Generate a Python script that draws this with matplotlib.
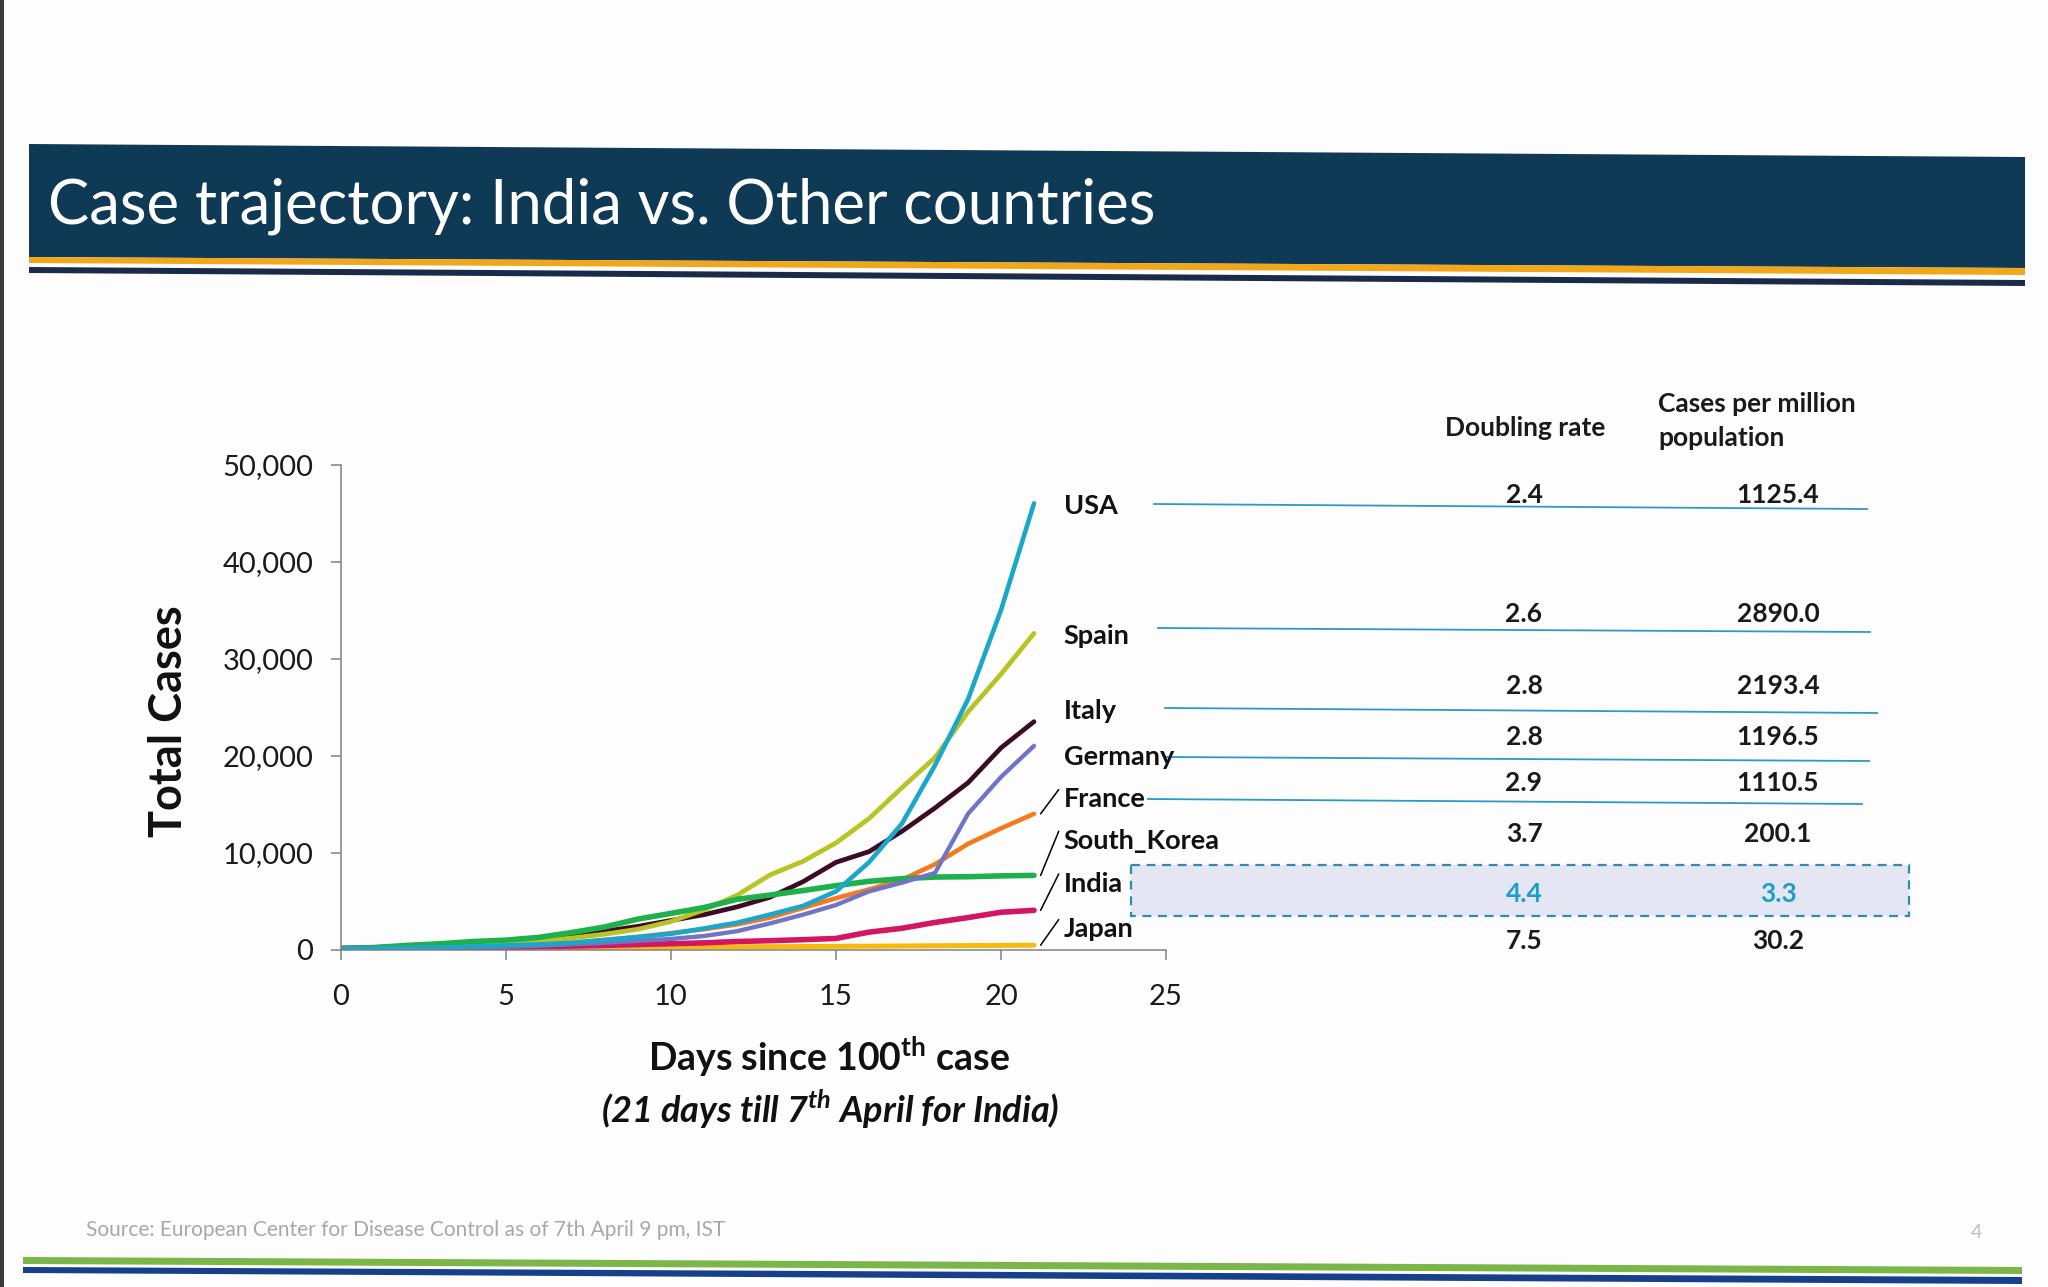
import matplotlib
matplotlib.use('Agg')
import matplotlib.pyplot as plt
from matplotlib.patches import Polygon, Rectangle
from matplotlib.ticker import FuncFormatter
import numpy as np

plt.rcParams['font.family'] = ['Lato', 'DejaVu Sans']
plt.rcParams['mathtext.fontset'] = 'custom'
plt.rcParams['mathtext.rm'] = 'Lato'
plt.rcParams['mathtext.bf'] = 'Lato:bold'
plt.rcParams['mathtext.bfit'] = 'Lato:italic:bold'

# ---- values ----
days = list(range(22))
countries = ['USA', 'Spain', 'Italy', 'Germany', 'France', 'South_Korea', 'India', 'Japan']

usa = [100, 124, 158, 221, 319, 435, 541, 704, 994, 1301, 1630, 2183, 2770, 3613,
       4500, 6000, 9000, 13000, 19000, 25800, 35000, 46000]
spain = [100, 150, 200, 290, 430, 600, 880, 1200, 1600, 2100, 2900, 4100, 5600, 7700,
         9100, 11000, 13500, 16700, 19800, 24500, 28400, 32600]
italy = [150, 230, 320, 450, 650, 860, 1100, 1500, 1900, 2400, 3000, 3600, 4400, 5400,
         7000, 9000, 10100, 12200, 14600, 17200, 20800, 23500]
germany = [100, 130, 160, 200, 250, 300, 400, 550, 700, 900, 1100, 1400, 1900, 2700,
           3600, 4600, 6000, 6900, 7900, 14000, 17800, 21000]
france = [100, 130, 190, 250, 300, 420, 600, 700, 1000, 1300, 1700, 2100, 2600, 3300,
          4300, 5300, 6200, 7200, 8800, 10900, 12500, 14000]
south_korea = [104, 204, 433, 602, 833, 977, 1261, 1766, 2337, 3150, 3736, 4335, 5186,
               5621, 6088, 6593, 7041, 7313, 7478, 7513, 7600, 7650]
india = [100, 114, 137, 151, 173, 223, 283, 360, 434, 519, 606, 694, 834, 918, 1024,
         1150, 1800, 2200, 2800, 3300, 3850, 4050]
japan = [100, 105, 132, 144, 156, 170, 190, 210, 230, 239, 254, 268, 284, 300, 317,
         333, 349, 372, 395, 414, 433, 455]

doubling_rate = ['2.4', '2.6', '2.8', '2.8', '2.9', '3.7', '4.4', '7.5']
cases_per_million = ['1125.4', '2890.0', '2193.4', '1196.5', '1110.5', '200.1', '3.3', '30.2']

yticks = [0, 10000, 20000, 30000, 40000, 50000]
xticks = [0, 5, 10, 15, 20, 25]

series = {'USA': usa, 'Spain': spain, 'Italy': italy, 'Germany': germany,
          'France': france, 'South_Korea': south_korea, 'India': india, 'Japan': japan}
colors = {'USA': '#1aa7c9', 'Spain': '#b8c424', 'Italy': '#3d0c22', 'Germany': '#6f74c6',
          'France': '#f47a20', 'South_Korea': '#1db04b', 'India': '#d31660', 'Japan': '#f7b90c'}
widths = {'USA': 3.3, 'Spain': 3.4, 'Italy': 3.4, 'Germany': 3.1, 'France': 3.3,
          'South_Korea': 4.0, 'India': 4.0, 'Japan': 3.6}
draw_order = ['Japan', 'India', 'France', 'Italy', 'Spain', 'South_Korea', 'Germany', 'USA']

# where the country names sit (data units) and which ones get a leader line
label_y = [45700, 32300, 24600, 19900, 15500, 11200, 6800, 2100]
with_leader = ['France', 'South_Korea', 'India', 'Japan']

# table rows: pixel rows of the slide
row_y = [495, 614, 686, 737, 783, 834, 894, 941]
separators = [(1154, 504, 1867, 509), (1158, 628, 1870, 632), (1165, 708, 1877, 713),
              (1165, 757, 1869, 761), (1148, 799, 1862, 804)]

fig = plt.figure(figsize=(20.48, 12.87), dpi=100)
fig.patch.set_facecolor('#fdfdfd')

# background layer in slide pixels
deco = fig.add_axes([0, 0, 1, 1])
deco.set_xlim(0, 2048)
deco.set_ylim(1287, 0)
deco.axis('off')


def band(x0, x1, top_l, top_r, h_l, h_r, color):
    deco.add_patch(Polygon([(x0, top_l), (x1, top_r), (x1, top_r + h_r), (x0, top_l + h_l)],
                           closed=True, facecolor=color, edgecolor='none'))


deco.add_patch(Rectangle((0, 0), 4, 1287, facecolor='#3a3a3a', edgecolor='none'))
band(29, 2025, 144, 157, 113, 111, '#0f3a56')
band(29, 2025, 257, 268, 6, 7, '#f2a71b')
band(29, 2025, 267, 280, 6, 6, '#1a2b4a')
deco.text(48, 206, 'Case trajectory: India vs. Other countries', color='white',
          fontsize=44.5, va='center', ha='left')

band(23, 2022, 1257, 1267, 7, 7, '#7ab648')
band(23, 2022, 1267, 1277, 6, 7, '#17408b')
deco.text(86, 1230, 'Source: European Center for Disease Control as of 7th April 9 pm, IST',
          color='#a8a8a8', fontsize=15, va='center', ha='left')
deco.text(1976, 1232, '4', color='#c0c0c0', fontsize=14, va='center', ha='center')

# table on the right
deco.text(1525, 428, 'Doubling rate', fontsize=19, fontweight='bold', ha='center',
          va='center', color='#1a1a1a')
deco.text(1658, 404, 'Cases per million', fontsize=19, fontweight='bold', ha='left',
          va='center', color='#1a1a1a')
deco.text(1658, 438, 'population', fontsize=19, fontweight='bold', ha='left',
          va='center', color='#1a1a1a')
for x0, y0, x1, y1 in separators:
    deco.plot([x0, x1], [y0, y1], color='#2a9bc4', lw=1.3)
deco.add_patch(Rectangle((1131, 865), 778, 51, facecolor='#e4e6f4', edgecolor='#2b8db5',
                         lw=1.6, linestyle=(0, (4, 3))))
for i, name in enumerate(countries):
    c = '#1b9fc6' if name == 'India' else '#1a1a1a'
    deco.text(1524, row_y[i], doubling_rate[i], fontsize=19, fontweight='bold',
              ha='center', va='center', color=c)
    deco.text(1778, row_y[i], cases_per_million[i], fontsize=19, fontweight='bold',
              ha='center', va='center', color=c)

# the chart
ax = fig.add_axes([341 / 2048, 1 - 949.6 / 1287, 825 / 2048, 485 / 1287])
ax.patch.set_alpha(0)
for name in draw_order:
    ax.plot(days, series[name], color=colors[name], lw=widths[name],
            solid_capstyle='round', solid_joinstyle='round')

for name, ly in zip(countries, label_y):
    ax.text(21.9, ly, name, fontsize=19.5, fontweight='bold', va='center', ha='left',
            color='#111111', clip_on=False)
    if name in with_leader:
        ax.annotate('', xy=(21.2, series[name][-1]), xytext=(21.75, ly + 1000),
                    arrowprops=dict(arrowstyle='-', color='black', lw=1.1,
                                    shrinkA=0, shrinkB=0),
                    annotation_clip=False)

ax.set_xlim(0, 25)
ax.set_ylim(0, 50000)
ax.set_xticks(xticks)
ax.set_yticks(yticks)
ax.yaxis.set_major_formatter(FuncFormatter(lambda v, p: f'{v:,.0f}'))
for s in ['top', 'right']:
    ax.spines[s].set_visible(False)
for s in ['left', 'bottom']:
    ax.spines[s].set_color('#808080')
    ax.spines[s].set_linewidth(1.1)
ax.tick_params(axis='both', direction='out', length=7, width=1.1, color='#808080',
               labelsize=21, labelcolor='#1a1a1a')
ax.tick_params(axis='y', pad=13)
ax.tick_params(axis='x', pad=18)

ax.set_ylabel('Total Cases', fontsize=32.5, fontweight='bold', color='#111111')
ax.yaxis.set_label_coords(-0.183, 0.471)

deco.text(829, 1057, r'Days since 100$^{\mathbf{th}}$ case', fontsize=27, fontweight='bold',
          ha='center', va='center', color='#111111')
deco.text(830, 1109, r'(21 days till 7$^{\mathbfit{th}}$ April for India)', fontsize=26,
          fontweight='bold', style='italic', ha='center', va='center', color='#111111')

fig.savefig('out.png', dpi=100, facecolor=fig.get_facecolor())
